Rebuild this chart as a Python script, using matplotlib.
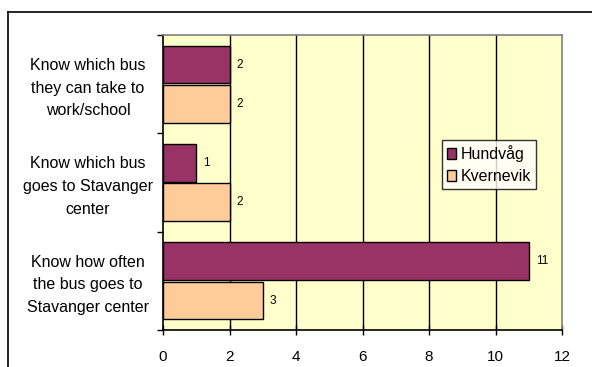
import matplotlib
matplotlib.use("Agg")
import matplotlib.pyplot as plt
from matplotlib.lines import Line2D
from matplotlib.patches import Patch

plt.rcParams['font.family'] = ['Liberation Sans', 'DejaVu Sans']

categories = [
    "Know which bus\nthey can take to\nwork/school",
    "Know which bus\ngoes to Stavanger\ncenter",
    "Know how often\nthe bus goes to\nStavanger center",
]
series_names = ["Hundvåg", "Kvernevik"]
hundvag = [2, 1, 11]
kvernevik = [2, 2, 3]
x_ticks = [0, 2, 4, 6, 8, 10, 12]

colors = ["#993366", "#FFCC99"]

W, H = 592, 367
fig = plt.figure(figsize=(W / 100, H / 100), dpi=100)
fig.patch.set_facecolor("white")

# outer chart frame (extends past right and bottom edges)
fig.add_artist(Line2D([8 / W, 1.01], [1 - 12 / H, 1 - 12 / H], color="black", lw=1.2))
fig.add_artist(Line2D([8 / W, 8 / W], [1 - 12 / H, -0.01], color="black", lw=1.2))

ax = fig.add_axes([163 / W, 1 - 330 / H, (562 - 163) / W, (330 - 35) / H])
ax.set_facecolor("#FFFFCC")

n = len(categories)
ypos = [n - 1 - i for i in range(n)]
h = 0.38
off = 0.2

ax.barh([y + off for y in ypos], hundvag, height=h, color=colors[0],
        edgecolor="black", linewidth=1, zorder=3)
ax.barh([y - off for y in ypos], kvernevik, height=h, color=colors[1],
        edgecolor="black", linewidth=1, zorder=3)

for y, v in zip(ypos, hundvag):
    ax.annotate(str(v), (v, y + off), xytext=(5, 0), textcoords="offset points",
                va="center", ha="left", fontsize=8.5)
for y, v in zip(ypos, kvernevik):
    ax.annotate(str(v), (v, y - off), xytext=(5, 0), textcoords="offset points",
                va="center", ha="left", fontsize=8.5)

ax.set_xlim(0, 12)
ax.set_ylim(-0.5, n - 0.5)
ax.set_xticks(x_ticks)
ax.set_xticklabels([str(t) for t in x_ticks], fontsize=11)
ax.tick_params(axis="x", direction="inout", length=7, width=1, pad=11, color="black")
ax.set_yticks([-0.5 + k for k in range(n + 1)])
ax.set_yticklabels([])
ax.tick_params(axis="y", length=4, width=1, color="black")

for t in x_ticks[1:-1]:
    ax.axvline(t, color="black", lw=1, zorder=1)

ax.spines["top"].set_color("#808080")
ax.spines["right"].set_color("#808080")
ax.spines["left"].set_color("black")
ax.spines["bottom"].set_color("black")
for s in ax.spines.values():
    s.set_linewidth(1.2)

# category labels, centred to the left of the plot
for y, lab in zip(ypos, categories):
    ax.annotate(lab, (0, y), xycoords=("figure fraction", "data"),
                xytext=(88, -4), textcoords="offset pixels",
                ha="center", va="center", multialignment="center",
                fontsize=11.5, linespacing=1.65)

handles = [Patch(facecolor=c, edgecolor="black", linewidth=1) for c in colors]
leg = fig.legend(handles, series_names, loc="upper left",
                 bbox_to_anchor=(442 / W, 1 - 140 / H), fontsize=11.5,
                 frameon=True, fancybox=False, shadow=False,
                 handlelength=0.6, handleheight=0.7, handletextpad=0.3,
                 labelspacing=0.45, borderpad=0.3, borderaxespad=0)
leg.get_frame().set_edgecolor("black")
leg.get_frame().set_linewidth(1)

fig.savefig("out.png", dpi=100, facecolor="white")
